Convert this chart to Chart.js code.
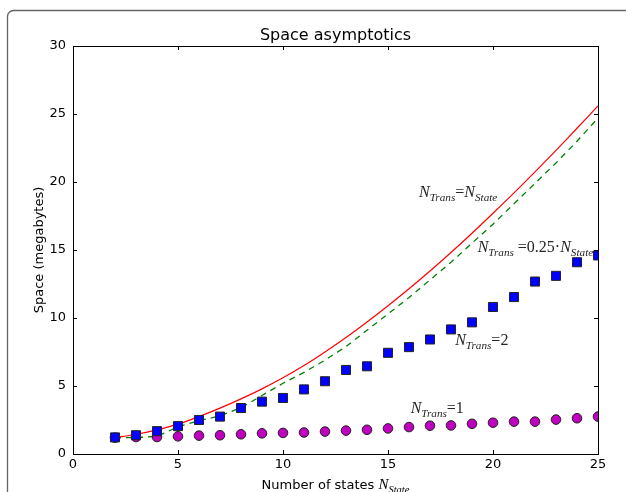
<!DOCTYPE html>
<html lang="en">
<head>
  <meta charset="UTF-8">
  <title>Space asymptotics</title>
  <script src="https://cdn.jsdelivr.net/npm/chart.js"></script>
  <style>
    html, body { margin: 0; padding: 0; background: #fff; }
    #chartContainer { width: 626px; height: 492px; }
  </style>
</head>
<body>
  <div id="chartContainer">
    <canvas id="spaceChart" width="626" height="492"></canvas>
  </div>

  <script>
    // number of states on the x axis
    const states = [2, 3, 4, 5, 6, 7, 8, 9, 10, 11, 12, 13, 14, 15, 16, 17, 18, 19, 20, 21, 22, 23, 24, 25];
    // N_Trans = N_State (solid red)
    const spaceFull = [1.2, 1.45, 1.78, 2.2, 2.75, 3.37, 4.05, 4.79, 5.6, 6.5, 7.5, 8.56, 9.7, 10.9, 12.15, 13.46, 14.82, 16.23, 17.7, 19.2, 20.75, 22.33, 23.95, 25.6];
    // N_Trans = 0.25 * N_State (dashed green)
    const spaceQuarter = [1.2, 1.2, 1.3, 2.0, 2.45, 2.8, 3.4, 4.3, 5.2, 6.0, 6.9, 7.9, 9.1, 10.3, 11.5, 12.8, 14.1, 15.5, 16.9, 18.4, 19.9, 21.4, 23.0, 24.7];
    // N_Trans = 2 (blue squares)
    const spaceTwo = [1.22, 1.38, 1.68, 2.05, 2.5, 2.75, 3.38, 3.85, 4.12, 4.75, 5.35, 6.18, 6.45, 7.44, 7.86, 8.42, 9.16, 9.68, 10.81, 11.54, 12.68, 13.1, 14.1, 14.6];
    // N_Trans = 1 (magenta circles)
    const spaceOne = [1.2, 1.25, 1.25, 1.3, 1.35, 1.38, 1.45, 1.52, 1.55, 1.58, 1.65, 1.72, 1.78, 1.88, 1.98, 2.08, 2.1, 2.22, 2.3, 2.38, 2.38, 2.53, 2.63, 2.75];

    const xTicks = [0, 5, 10, 15, 20, 25];
    const yTicks = [0, 5, 10, 15, 20, 25, 30];

    const pts = arr => states.map((s, i) => ({ x: s, y: arr[i] }));

    // curve labels: [x, y] in data units, then the pieces of the formula
    const notes = [
      { at: [16.48, 18.9], parts: [['N', 'i'], ['Trans', 's'], ['=', 'r'], ['N', 'i'], ['State', 's']] },
      { at: [19.27, 14.87], parts: [['N', 'i'], ['Trans', 's'], [' =0.25\u00b7', 'r'], ['N', 'i'], ['State', 's']] },
      { at: [18.2, 8.05], parts: [['N', 'i'], ['Trans', 's'], ['=2', 'r']] },
      { at: [16.08, 3.05], parts: [['N', 'i'], ['Trans', 's'], ['=1', 'r']] }
    ];

    const SERIF = '"Liberation Serif", "DejaVu Serif", serif';
    const SANS = '"DejaVu Sans", sans-serif';

    function mathWidth(ctx, parts, size) {
      let w = 0;
      parts.forEach(([t, k]) => {
        const fs = k === 's' ? size * 0.7 : size;
        ctx.font = (k === 'r' ? '' : 'italic ') + fs + 'px ' + SERIF;
        w += ctx.measureText(t).width;
      });
      return w;
    }

    function drawMath(ctx, x, y, parts, size) {
      let cx = x;
      ctx.textAlign = 'left';
      ctx.textBaseline = 'alphabetic';
      parts.forEach(([t, k]) => {
        const fs = k === 's' ? size * 0.7 : size;
        ctx.font = (k === 'r' ? '' : 'italic ') + fs + 'px ' + SERIF;
        ctx.fillText(t, cx, y + (k === 's' ? size * 0.25 : 0));
        cx += ctx.measureText(t).width;
      });
    }

    const decorations = {
      id: 'decorations',
      beforeDraw(chart) {
        const ctx = chart.ctx;
        ctx.save();
        ctx.fillStyle = '#fff';
        ctx.fillRect(0, 0, chart.width, chart.height);
        // outer rounded frame (cut by the picture edge)
        ctx.strokeStyle = '#666';
        ctx.lineWidth = 1.3;
        ctx.beginPath();
        ctx.moveTo(7.5, chart.height + 2);
        ctx.lineTo(7.5, 17);
        ctx.arcTo(7.5, 10.5, 14, 10.5, 6);
        ctx.lineTo(chart.width + 2, 10.5);
        ctx.stroke();
        ctx.restore();
      },
      afterDraw(chart) {
        const ctx = chart.ctx;
        const a = chart.chartArea;
        const xs = chart.scales.x, ys = chart.scales.y;
        ctx.save();
        // axes box
        ctx.strokeStyle = '#000';
        ctx.lineWidth = 1;
        ctx.strokeRect(Math.round(a.left) + 0.5, Math.round(a.top) + 0.5,
          Math.round(a.right - a.left), Math.round(a.bottom - a.top));
        // inward ticks on all sides
        ctx.beginPath();
        xTicks.forEach(v => {
          const px = Math.round(xs.getPixelForValue(v)) + 0.5;
          ctx.moveTo(px, a.bottom); ctx.lineTo(px, a.bottom - 4);
          ctx.moveTo(px, a.top); ctx.lineTo(px, a.top + 4);
        });
        yTicks.forEach(v => {
          const py = Math.round(ys.getPixelForValue(v)) + 0.5;
          ctx.moveTo(a.left, py); ctx.lineTo(a.left + 4, py);
          ctx.moveTo(a.right, py); ctx.lineTo(a.right - 4, py);
        });
        ctx.stroke();

        // title
        ctx.fillStyle = '#000';
        ctx.font = '16px ' + SANS;
        ctx.textAlign = 'center';
        ctx.textBaseline = 'alphabetic';
        ctx.fillText('Space asymptotics', (a.left + a.right) / 2, 40);

        // y axis title
        ctx.save();
        ctx.translate(40, (a.top + a.bottom) / 2);
        ctx.rotate(-Math.PI / 2);
        ctx.font = '13px ' + SANS;
        ctx.textAlign = 'center';
        ctx.textBaseline = 'middle';
        ctx.fillText('Space (megabytes)', 0, 0);
        ctx.restore();

        // x axis title
        const head = 'Number of states ';
        const sym = [['N', 'i'], ['State', 's']];
        ctx.font = '13px ' + SANS;
        const wHead = ctx.measureText(head).width;
        const wSym = mathWidth(ctx, sym, 15);
        let sx = (a.left + a.right) / 2 - (wHead + wSym) / 2;
        ctx.textAlign = 'left';
        ctx.textBaseline = 'alphabetic';
        ctx.font = '13px ' + SANS;
        ctx.fillText(head, sx, 489);
        drawMath(ctx, sx + wHead, 489, sym, 15);

        // curve labels
        ctx.fillStyle = '#262626';
        notes.forEach(n => {
          drawMath(ctx, xs.getPixelForValue(n.at[0]), ys.getPixelForValue(n.at[1]), n.parts, 16);
        });
        ctx.restore();
      }
    };

    const ctx = document.getElementById('spaceChart').getContext('2d');
    const chart = new Chart(ctx, {
      type: 'scatter',
      data: {
        datasets: [
          {
            label: 'N_Trans = 2',
            data: pts(spaceTwo),
            pointStyle: 'rect',
            pointRadius: 6.4,
            backgroundColor: '#0000ff',
            borderColor: '#222',
            borderWidth: 1,
            showLine: false,
            clip: 0,
            order: 1
          },
          {
            label: 'N_Trans = 1',
            data: pts(spaceOne),
            pointStyle: 'circle',
            pointRadius: 4.8,
            backgroundColor: '#bf00bf',
            borderColor: '#222',
            borderWidth: 1,
            showLine: false,
            clip: 0,
            order: 2
          },
          {
            label: 'N_Trans = 0.25 N_State',
            data: pts(spaceQuarter),
            showLine: true,
            borderColor: '#008000',
            borderWidth: 1.3,
            borderDash: [6, 5],
            pointRadius: 0,
            tension: 0,
            clip: 0,
            order: 3
          },
          {
            label: 'N_Trans = N_State',
            data: pts(spaceFull),
            showLine: true,
            borderColor: '#ff0000',
            borderWidth: 1.2,
            pointRadius: 0,
            tension: 0.3,
            clip: 0,
            order: 4
          }
        ]
      },
      options: {
        responsive: false,
        animation: false,
        events: [],
        layout: { padding: { top: 46, right: 28, left: 0, bottom: 0 } },
        plugins: {
          legend: { display: false },
          title: { display: false },
          tooltip: { enabled: false }
        },
        scales: {
          x: {
            type: 'linear',
            min: 0,
            max: 25,
            afterFit: s => { s.height = 38; },
            afterBuildTicks: s => { s.ticks = xTicks.map(v => ({ value: v })); },
            grid: { display: false, drawTicks: false },
            border: { display: false },
            ticks: { color: '#000', padding: 3, font: { family: 'DejaVu Sans', size: 13 } }
          },
          y: {
            type: 'linear',
            min: 0,
            max: 30,
            afterFit: s => { s.width = 73; },
            afterBuildTicks: s => { s.ticks = yTicks.map(v => ({ value: v })); },
            grid: { display: false, drawTicks: false },
            border: { display: false },
            ticks: { color: '#000', padding: 7, font: { family: 'DejaVu Sans', size: 13 } }
          }
        }
      },
      plugins: [decorations]
    });
  </script>
</body>
</html>
